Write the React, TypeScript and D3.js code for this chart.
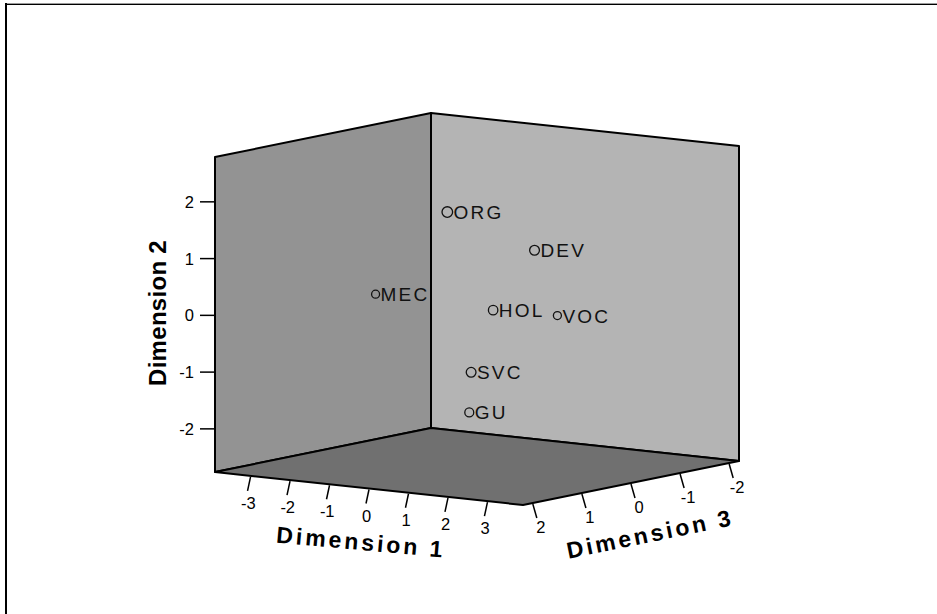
import React, { useRef, useEffect } from "react";
import * as d3 from "d3";

// object scores
const pointLabels = ["ORG", "DEV", "MEC", "HOL", "VOC", "SVC", "GU"];
const dimension1 = [0.74, 1.83, -3.19, 1.03, 1.29, 0.97, 0.55];
const dimension2 = [1.99, 1.24, -0.05, 0.16, -0.11, -0.87, -1.66];
const dimension3 = [1.2, 0.3, -0.5, 0.5, -0.6, 0.9, 0.6];

const dim1Ticks = [-3, -2, -1, 0, 1, 2, 3];
const dim2Ticks = [-2, -1, 0, 1, 2];
const dim3Ticks = [2, 1, 0, -1, -2];

const dim1Extent = [-3.9, 3.9];
const dim2Extent = [-2.76, 2.79];
const dim3Extent = [2.2, -2.2];

const font = "'Liberation Sans', Arial, sans-serif";

export default function App() {
	const ref = useRef(null);

	const layout = {
		width: 937,
		height: 614,
		originX: 215,
		originY: 472,
		uX: 308,
		uY: 33,
		wX: 216,
		wY: -44,
		boxHeight: 315
	};

	useEffect(() => {
		const svg = d3.select(ref.current);
		svg.selectAll("*").remove();

		const s1 = d3.scaleLinear().domain(dim1Extent).range([0, 1]);
		const s2 = d3.scaleLinear().domain(dim2Extent).range([0, 1]);
		const s3 = d3.scaleLinear().domain(dim3Extent).range([0, 1]);

		// unit box coords -> screen
		const P = (u: number, v: number, w: number): [number, number] => [
			layout.originX + u * layout.uX + w * layout.wX,
			layout.originY + u * layout.uY + w * layout.wY - v * layout.boxHeight
		];
		const project = (a: number, b: number, c: number) => P(s1(a), s2(b), s3(c));
		const poly = (pts: [number, number][]) => pts.map(p => p.join(",")).join(" ");

		// outer frame (cropped)
		svg.append("line").attr("x1", 5).attr("x2", layout.width).attr("y1", 3.5).attr("y2", 3.5)
			.attr("stroke", "#9a9a9a").attr("stroke-width", 1);
		svg.append("line").attr("x1", 5).attr("x2", layout.width).attr("y1", 4.5).attr("y2", 4.5)
			.attr("stroke", "#000").attr("stroke-width", 1);
		svg.append("line").attr("x1", 6).attr("x2", 6).attr("y1", 3).attr("y2", layout.height)
			.attr("stroke", "#000").attr("stroke-width", 2);

		const walls = [
			{ fill: "#939393", pts: [P(0, 0, 0), P(0, 0, 1), P(0, 1, 1), P(0, 1, 0)] },
			{ fill: "#b4b4b4", pts: [P(0, 0, 1), P(1, 0, 1), P(1, 1, 1), P(0, 1, 1)] },
			{ fill: "#707070", pts: [P(0, 0, 0), P(1, 0, 0), P(1, 0, 1), P(0, 0, 1)] }
		];

		svg.selectAll(".wall")
			.data(walls)
			.join("polygon")
			.attr("class", "wall")
			.attr("points", d => poly(d.pts))
			.attr("fill", d => d.fill)
			.attr("stroke", "#000")
			.attr("stroke-width", 2)
			.attr("stroke-linejoin", "round");

		// dimension 2 axis (left front edge)
		const ax2 = svg.append("g");
		dim2Ticks.forEach(t => {
			const [x, y] = project(dim1Extent[0], t, dim3Extent[0]);
			ax2.append("line").attr("x1", x).attr("x2", x - 15).attr("y1", y).attr("y2", y)
				.attr("stroke", "#000").attr("stroke-width", 1.5);
			ax2.append("text").attr("x", x - 21).attr("y", y + 6)
				.attr("text-anchor", "end").attr("font-family", font).attr("font-size", 16.5)
				.text(String(t));
		});

		// dimension 1 axis (floor, left-front edge)
		const ax1 = svg.append("g");
		dim1Ticks.forEach(t => {
			const [x, y] = project(t, dim2Extent[0], dim3Extent[0]);
			ax1.append("line").attr("x1", x).attr("x2", x - 3).attr("y1", y + 1).attr("y2", y + 15)
				.attr("stroke", "#000").attr("stroke-width", 1.5);
			ax1.append("text").attr("x", x - 2.3).attr("y", y + 33)
				.attr("text-anchor", "middle").attr("font-family", font).attr("font-size", 16.5)
				.text(String(t));
		});

		// dimension 3 axis (floor, front-right edge)
		const ax3 = svg.append("g");
		dim3Ticks.forEach(t => {
			const [x, y] = project(dim1Extent[1], dim2Extent[0], t);
			ax3.append("line").attr("x1", x).attr("x2", x + 4).attr("y1", y + 1).attr("y2", y + 15)
				.attr("stroke", "#000").attr("stroke-width", 1.5);
			ax3.append("text").attr("x", x + 8).attr("y", y + 30)
				.attr("text-anchor", "middle").attr("font-family", font).attr("font-size", 16.5)
				.text(String(t));
		});

		// axis titles
		const a1 = Math.atan2(layout.uY, layout.uX) * 180 / Math.PI;
		const a3 = Math.atan2(layout.wY, layout.wX) * 180 / Math.PI;

		svg.append("text")
			.attr("transform", `translate(361, 542) rotate(${a1 - 1})`)
			.attr("y", 8)
			.attr("text-anchor", "middle").attr("font-family", font).attr("font-size", 23)
			.attr("font-weight", "bold").attr("letter-spacing", 3)
			.text("Dimension 1");

		svg.append("text")
			.attr("transform", `translate(157, 313) rotate(-90)`)
			.attr("y", 8.5)
			.attr("text-anchor", "middle").attr("font-family", font).attr("font-size", 24)
			.attr("font-weight", "bold").attr("letter-spacing", 0.3)
			.text("Dimension 2");

		svg.append("text")
			.attr("transform", `translate(650, 534) rotate(${a3})`)
			.attr("y", 8)
			.attr("text-anchor", "middle").attr("font-family", font).attr("font-size", 23)
			.attr("font-weight", "bold").attr("letter-spacing", 3)
			.text("Dimension 3");

		// points, marker size shrinks with depth
		const pts = pointLabels.map((label, i) => {
			const [x, y] = project(dimension1[i], dimension2[i], dimension3[i]);
			const depth = 0.58 * s1(dimension1[i]) + 0.81 * (1 - s3(dimension3[i])) + 0.15 * s2(dimension2[i]);
			return { label, x, y, depth };
		});

		const rScale = d3.scaleLinear().domain([0.75, 1.1]).range([4, 5.3]).clamp(true);

		const g = svg.selectAll(".pt")
			.data(pts)
			.join("g")
			.attr("class", "pt");

		g.append("circle")
			.attr("cx", d => d.x)
			.attr("cy", d => d.y)
			.attr("r", d => rScale(d.depth))
			.attr("fill", "none")
			.attr("stroke", "#111")
			.attr("stroke-width", 1.3);

		g.append("text")
			.attr("x", d => d.x + rScale(d.depth) + 1)
			.attr("y", d => d.y + 7)
			.attr("font-family", font)
			.attr("font-size", 19)
			.attr("letter-spacing", 2.2)
			.attr("fill", "#111")
			.text(d => d.label);
	}, []);

	return (
		<svg ref={ref} width={layout.width} height={layout.height}
			style={{ position: "absolute", left: 0, top: 0, background: "#fff" }} />
	);
}
